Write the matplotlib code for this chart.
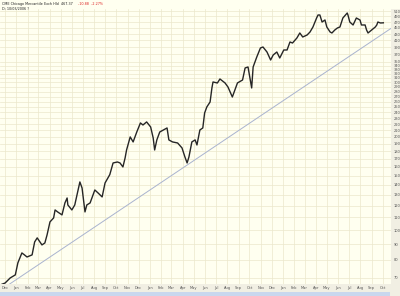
import numpy as np
import pandas as pd
import matplotlib
matplotlib.use("Agg")
from matplotlib import pyplot as plt
from matplotlib.patches import Rectangle

# CME daily chart (roughly weekly)
dates = ['2003-11-17', '2003-12-01', '2003-12-15', '2003-12-29', '2004-01-02', '2004-01-05',
         '2004-01-16', '2004-01-23', '2004-01-30', '2004-02-13', '2004-02-20', '2004-02-27',
         '2004-03-11', '2004-03-19', '2004-03-25', '2004-04-02', '2004-04-12', '2004-04-16',
         '2004-04-23', '2004-05-05', '2004-05-13', '2004-05-19', '2004-05-21', '2004-06-01',
         '2004-06-09', '2004-06-18', '2004-06-23', '2004-06-29', '2004-07-07', '2004-07-12',
         '2004-07-21', '2004-08-03', '2004-08-12', '2004-08-23', '2004-08-31', '2004-09-08',
         '2004-09-13', '2004-09-22', '2004-10-04', '2004-10-11', '2004-10-19', '2004-10-25',
         '2004-10-29', '2004-11-08', '2004-11-16', '2004-11-26', '2004-12-06', '2004-12-13',
         '2004-12-23', '2005-01-03', '2005-01-10', '2005-01-14', '2005-01-20', '2005-01-28',
         '2005-02-07', '2005-02-17', '2005-02-22', '2005-03-04', '2005-03-18', '2005-03-30',
         '2005-04-07', '2005-04-13', '2005-04-18', '2005-04-26', '2005-05-05', '2005-05-10',
         '2005-05-18', '2005-05-26', '2005-05-31', '2005-06-06', '2005-06-15', '2005-06-20',
         '2005-06-23', '2005-07-05', '2005-07-12', '2005-07-26', '2005-08-03', '2005-08-15',
         '2005-08-17', '2005-08-29', '2005-09-12', '2005-09-19', '2005-09-27', '2005-10-07',
         '2005-10-11', '2005-10-21', '2005-10-31', '2005-11-07', '2005-11-18', '2005-11-28',
         '2005-12-05', '2005-12-15', '2005-12-23', '2006-01-03', '2006-01-12', '2006-01-20',
         '2006-01-27', '2006-02-08', '2006-02-16', '2006-02-24', '2006-03-08', '2006-03-16',
         '2006-03-24', '2006-04-03', '2006-04-07', '2006-04-12', '2006-04-18', '2006-04-26',
         '2006-05-01', '2006-05-10', '2006-05-15', '2006-05-23', '2006-05-30', '2006-06-06',
         '2006-06-14', '2006-06-26', '2006-06-28', '2006-07-03', '2006-07-12', '2006-07-21',
         '2006-07-31', '2006-08-04', '2006-08-14', '2006-08-18', '2006-08-22', '2006-09-01',
         '2006-09-11', '2006-09-15', '2006-09-18', '2006-09-25', '2006-10-03']
prices = [66.4, 67.4, 70.0, 71.6, 75.4, 78.3,
          84.3, 83.1, 81.8, 83.1, 91.5, 94.3,
          89.5, 90.8, 96.4, 106.2, 109.4, 116.1,
          114.4, 111.9, 122.3, 126.9, 120.5, 116.1,
          120.5, 134.7, 143.0, 136.7, 114.4, 120.5,
          122.3, 134.7, 131.7, 127.9, 141.9, 147.3,
          151.0, 164.7, 165.9, 164.7, 159.9, 171.0,
          181.4, 199.9, 192.6, 207.4, 221.8, 218.5,
          223.5, 215.3, 198.4, 181.4, 195.5, 207.4,
          210.5, 213.7, 195.5, 192.6, 191.1, 184.2,
          172.2, 164.7, 172.2, 192.6, 195.5, 188.3,
          210.5, 213.7, 238.9, 249.8, 259.3, 287.8,
          300.9, 298.7, 307.7, 298.7, 289.9, 269.1,
          273.2, 298.7, 305.4, 334.0, 336.4, 287.8,
          336.4, 362.4, 387.5, 390.4, 376.1, 354.4,
          367.9, 376.1, 359.7, 381.8, 381.8, 405.2,
          402.2, 417.5, 433.3, 420.6, 426.9, 436.6,
          453.1, 484.4, 495.4, 495.4, 470.2, 477.3,
          453.1, 436.6, 433.3, 443.1, 449.7, 453.1,
          484.4, 502.8, 495.4, 470.2, 459.9, 484.4,
          477.3, 459.9, 459.9, 443.1, 433.3, 443.1,
          453.1, 459.9, 470.2, 466.8, 467.37]

trend_dates = ['2003-11-26', '2006-10-24']
trend_values = [64.8, 448.4]

ytick_values = list(range(70, 360, 10)) + list(range(370, 520, 20))
month_starts = pd.date_range('2003-12-01', '2006-10-01', freq='MS')

title_main = "CME Chicago Mercantile Exch Hld  467.37"
title_change = "-10.88  -2.27%"
subtitle = "D: 10/03/2006 ?"

bg = '#FFFFF0'
grid_col = '#EBE7CC'
strip_col = '#F1EFE3'

fig = plt.figure(figsize=(4.0, 2.96), dpi=100, facecolor=strip_col)
# полоса заголовка
fig.patches.append(Rectangle((0, 0.9696), 1, 0.0304, transform=fig.transFigure,
                             facecolor=bg, edgecolor='none', zorder=0))
# полоса прокрутки внизу
fig.patches.append(Rectangle((0, 0), 0.975, 0.012, transform=fig.transFigure,
                             facecolor='#C9D7EE', edgecolor='none', zorder=0))

ax = fig.add_axes([0.0, 0.0405, 0.9775, 0.9291])
ax.set_facecolor(bg)
ax.set_yscale('log')

x = pd.to_datetime(dates)
ax.plot(x, prices, color='#262626', lw=1.0, zorder=3)
ax.plot(pd.to_datetime(trend_dates), trend_values, color='#A9B3CF', lw=0.7, zorder=2)

ax.set_ylim(66.9, 518)
ax.set_xlim(pd.Timestamp('2003-11-17'), pd.Timestamp('2006-10-24'))

ax.yaxis.tick_right()
ax.set_yticks(ytick_values)
ax.set_yticklabels([str(v) for v in ytick_values])
ax.yaxis.set_minor_locator(matplotlib.ticker.NullLocator())
ax.set_xticks(month_starts)
ax.set_xticklabels([d.strftime('%b') for d in month_starts])
ax.tick_params(axis='both', length=0, labelsize=2.6, colors='#555555')
ax.tick_params(axis='y', pad=2)
ax.tick_params(axis='x', pad=1.5)

ax.grid(True, which='major', color=grid_col, lw=0.5, zorder=0)
for s in ax.spines.values():
    s.set_visible(False)

t1 = fig.text(0.005, 0.992, title_main, fontsize=2.4, color='#222222', va='top', ha='left')
fig.canvas.draw()
bb = t1.get_window_extent().transformed(fig.transFigure.inverted())
fig.text(bb.x1 + 0.012, 0.992, title_change, fontsize=2.4, color='#DD2222', va='top', ha='left')
fig.text(0.005, 0.976, subtitle, fontsize=2.4, color='#222222', va='top', ha='left')

fig.savefig('out.png', dpi=100, facecolor=fig.get_facecolor())
